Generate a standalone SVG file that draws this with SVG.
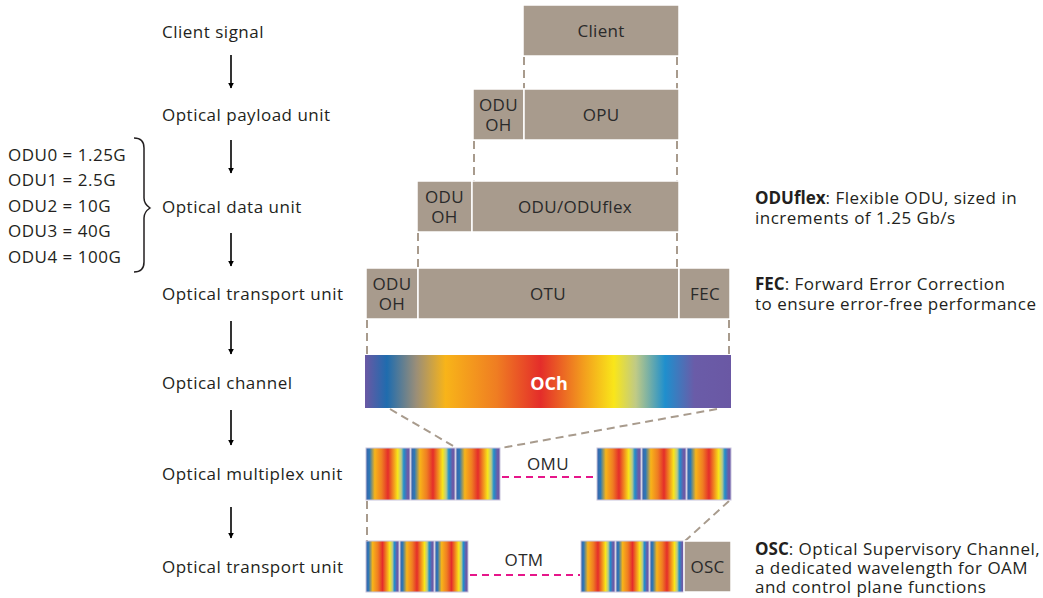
<svg xmlns="http://www.w3.org/2000/svg" width="1043" height="598" viewBox="0 0 1043 598">
  <style>
    text { font-family: "Open Sans", "DejaVu Sans", sans-serif; fill: #231f20; }
    .lbl { font-size: 17px; letter-spacing: 0.5px; }
    .box { fill: #a89b8d; stroke: #ffffff; stroke-width: 1.5; }
    .bt { font-size: 17px; letter-spacing: 0.3px; text-anchor: middle; fill: #2a2a2a; }
    .note { font-size: 17px; letter-spacing: 0.5px; }
    .b { font-weight: bold; letter-spacing: 0; }
    .dash { stroke: #a89b8d; stroke-width: 2; stroke-dasharray: 8 5; fill: none; }
    .pink { stroke: #e6168a; stroke-width: 2; stroke-dasharray: 7 5; fill: none; }
    .arr { stroke: #000; stroke-width: 1.6; fill: none; marker-end: url(#ah); }
    .wl { stroke: #c7c3dc; stroke-width: 1; fill: url(#wave); }
  </style>
  <defs>
    <marker id="ah" viewBox="0 0 10 10" refX="9" refY="5" markerWidth="6" markerHeight="8" markerUnits="userSpaceOnUse" orient="auto">
      <path d="M0,0 L10,5 L0,10 z" fill="#000"/>
    </marker>
    <linearGradient id="och" x1="0" y1="0" x2="1" y2="0">
      <stop offset="0" stop-color="#6a58a4"/>
      <stop offset="0.06" stop-color="#1f6cae"/>
      <stop offset="0.14" stop-color="#9a8e78"/>
      <stop offset="0.22" stop-color="#f8b419"/>
      <stop offset="0.36" stop-color="#ef7d22"/>
      <stop offset="0.48" stop-color="#e42d2a"/>
      <stop offset="0.6" stop-color="#f3a01d"/>
      <stop offset="0.68" stop-color="#f9e61a"/>
      <stop offset="0.74" stop-color="#bfca86"/>
      <stop offset="0.82" stop-color="#1f8fcd"/>
      <stop offset="0.9" stop-color="#6a5ca8"/>
      <stop offset="1" stop-color="#6a58a4"/>
    </linearGradient>
    <linearGradient id="wave" x1="0" y1="0" x2="1" y2="0">
      <stop offset="0" stop-color="#3a62a8"/>
      <stop offset="0.08" stop-color="#2f78b6"/>
      <stop offset="0.2" stop-color="#f8b419"/>
      <stop offset="0.36" stop-color="#ef7d22"/>
      <stop offset="0.5" stop-color="#e42d2a"/>
      <stop offset="0.64" stop-color="#f3a01d"/>
      <stop offset="0.72" stop-color="#f9e61a"/>
      <stop offset="0.8" stop-color="#b9c98a"/>
      <stop offset="0.86" stop-color="#1f8fcd"/>
      <stop offset="0.94" stop-color="#6a5ca8"/>
      <stop offset="1" stop-color="#6a58a4"/>
    </linearGradient>
  </defs>

  <!-- layer labels on the left -->
  <g id="layer-labels">
    <text class="lbl" x="162" y="38">Client signal</text>
    <text class="lbl" x="162" y="121">Optical payload unit</text>
    <text class="lbl" x="162" y="213">Optical data unit</text>
    <text class="lbl" x="162" y="300">Optical transport unit</text>
    <text class="lbl" x="162" y="389">Optical channel</text>
    <text class="lbl" x="162" y="480">Optical multiplex unit</text>
    <text class="lbl" x="162" y="573">Optical transport unit</text>
  </g>

  <!-- ODU rates with brace -->
  <g id="odu-rates">
    <text class="lbl" x="8" y="161">ODU0 = 1.25G</text>
    <text class="lbl" x="8" y="186">ODU1 = 2.5G</text>
    <text class="lbl" x="8" y="212">ODU2 = 10G</text>
    <text class="lbl" x="8" y="237">ODU3 = 40G</text>
    <text class="lbl" x="8" y="263">ODU4 = 100G</text>
    <path d="M134,138 Q144,138 144,148 L144,198 Q144,204 150,208 Q144,212 144,218 L144,262 Q144,272 134,272" fill="none" stroke="#231f20" stroke-width="1.5"/>
  </g>

  <!-- connectors: flow arrows and dashed guide lines -->
  <g id="connectors">
    <line class="arr" x1="231" y1="55" x2="231" y2="88"/>
    <line class="arr" x1="231" y1="140" x2="231" y2="173"/>
    <line class="arr" x1="231" y1="233" x2="231" y2="266"/>
    <line class="arr" x1="231" y1="321" x2="231" y2="354"/>
    <line class="arr" x1="231" y1="410" x2="231" y2="445"/>
    <line class="arr" x1="231" y1="507" x2="231" y2="538"/>

    <line class="dash" x1="524" y1="57" x2="524" y2="89"/>
    <line class="dash" x1="677" y1="57" x2="677" y2="89"/>
    <line class="dash" x1="474" y1="141" x2="474" y2="181"/>
    <line class="dash" x1="677" y1="141" x2="677" y2="181"/>
    <line class="dash" x1="418" y1="233" x2="418" y2="268"/>
    <line class="dash" x1="677" y1="233" x2="677" y2="268"/>
    <line class="dash" x1="367" y1="320" x2="367" y2="355"/>
    <line class="dash" x1="729" y1="320" x2="729" y2="355"/>
    <line class="dash" x1="390" y1="409" x2="455" y2="447"/>
    <line class="dash" x1="717" y1="409" x2="501" y2="448"/>
    <line class="dash" x1="367" y1="501" x2="367" y2="541"/>
    <line class="dash" x1="729" y1="501" x2="685" y2="541"/>

    <line class="pink" x1="502" y1="477" x2="596" y2="477"/>
    <line class="pink" x1="470" y1="575" x2="580" y2="575"/>
  </g>

  <g id="client">
    <rect class="box" x="523" y="5" width="156" height="51"/>
    <text class="bt" x="601" y="37">Client</text>
  </g>

  <g id="opu">
    <rect class="box" x="473" y="89" width="51" height="51"/>
    <text class="bt" x="498.5" y="111">ODU</text>
    <text class="bt" x="498.5" y="131">OH</text>
    <rect class="box" x="524" y="89" width="155" height="51"/>
    <text class="bt" x="601" y="121">OPU</text>
  </g>

  <g id="odu">
    <rect class="box" x="417" y="181" width="55" height="51"/>
    <text class="bt" x="444.5" y="203">ODU</text>
    <text class="bt" x="444.5" y="223">OH</text>
    <rect class="box" x="472" y="181" width="207" height="51"/>
    <text class="bt" x="575" y="213">ODU/ODUflex</text>
  </g>

  <g id="otu">
    <rect class="box" x="366" y="268" width="52" height="51"/>
    <text class="bt" x="392" y="290">ODU</text>
    <text class="bt" x="392" y="310">OH</text>
    <rect class="box" x="418" y="268" width="261" height="51"/>
    <text class="bt" x="548" y="300">OTU</text>
    <rect class="box" x="679" y="268" width="51" height="51"/>
    <text class="bt" x="705" y="300">FEC</text>
  </g>

  <g id="och">
    <rect x="365" y="355" width="366" height="53" fill="url(#och)"/>
    <text x="549" y="390" font-size="18" font-weight="bold" text-anchor="middle" style="fill:#ffffff">OCh</text>
  </g>

  <g id="omu">
    <rect class="wl" x="366" y="448" width="44" height="52"/>
    <rect class="wl" x="411" y="448" width="44" height="52"/>
    <rect class="wl" x="456" y="448" width="44" height="52"/>
    <rect class="wl" x="597" y="448" width="44" height="52"/>
    <rect class="wl" x="642" y="448" width="44" height="52"/>
    <rect class="wl" x="687" y="448" width="44" height="52"/>
    <text class="bt" x="548" y="470">OMU</text>
  </g>

  <g id="otm">
    <rect class="wl" x="366" y="541" width="33" height="51"/>
    <rect class="wl" x="400" y="541" width="34" height="51"/>
    <rect class="wl" x="435" y="541" width="33" height="51"/>
    <rect class="wl" x="581" y="541" width="34" height="51"/>
    <rect class="wl" x="616" y="541" width="33" height="51"/>
    <rect class="wl" x="650" y="541" width="34" height="51"/>
    <rect class="box" x="684" y="541" width="47" height="51"/>
    <text class="bt" x="707.5" y="573">OSC</text>
    <text class="bt" x="524" y="566">OTM</text>
  </g>

  <!-- side notes -->
  <g id="notes">
    <text class="note" x="755" y="204"><tspan class="b">ODUflex</tspan>: Flexible ODU, sized in</text>
    <text class="note" x="755" y="224">increments of 1.25 Gb/s</text>
    <text class="note" x="755" y="290"><tspan class="b">FEC</tspan>: Forward Error Correction</text>
    <text class="note" x="755" y="310">to ensure error-free performance</text>
    <text class="note" x="755" y="555"><tspan class="b">OSC</tspan>: Optical Supervisory Channel,</text>
    <text class="note" x="755" y="574">a dedicated wavelength for OAM</text>
    <text class="note" x="755" y="593">and control plane functions</text>
  </g>
</svg>
